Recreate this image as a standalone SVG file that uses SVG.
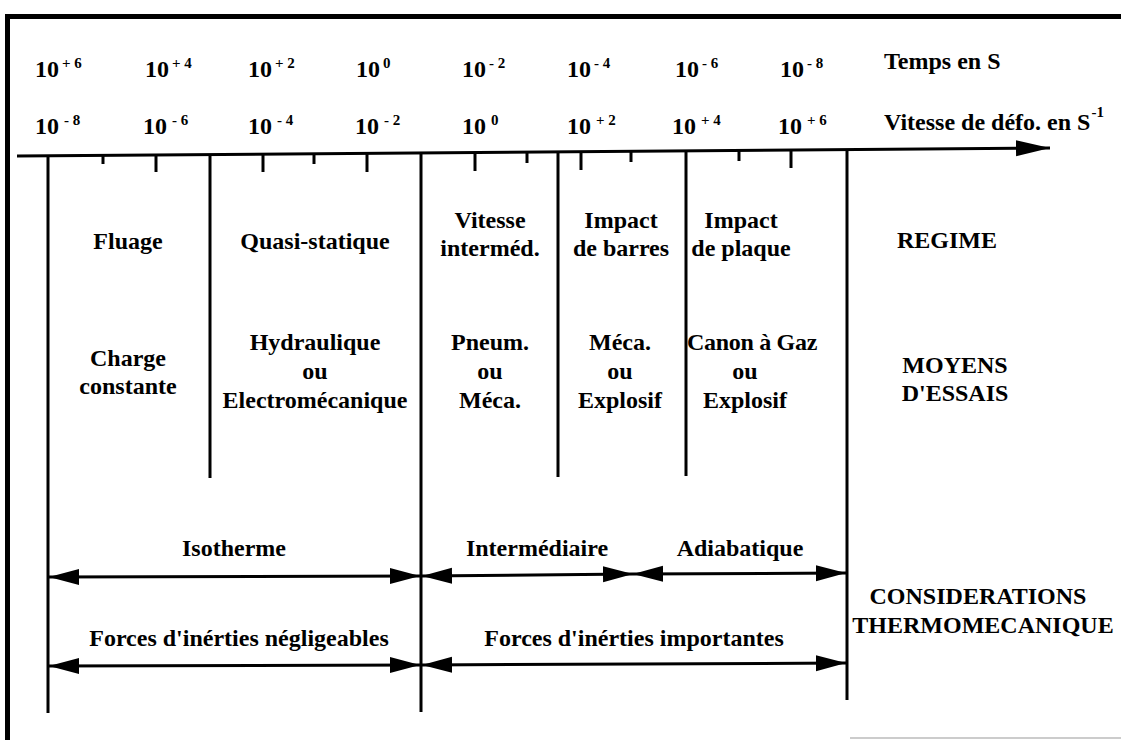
<svg xmlns="http://www.w3.org/2000/svg" width="1121" height="740" viewBox="0 0 1121 740">
<style>
text{font-family:"Liberation Serif","Times New Roman",serif;font-weight:bold;font-size:24px;fill:#000}
.c{text-anchor:middle}
.sup{font-size:15px}
.frame{stroke:#000;stroke-width:5;fill:none}
.ax{stroke:#000;stroke-width:3;fill:none}
.tick{stroke:#000;stroke-width:3}
.div{stroke:#000;stroke-width:3}
.arr{stroke:#000;stroke-width:3;fill:none;marker-start:url(#ah);marker-end:url(#ah)}
</style>
<defs>
<marker id="ah" markerUnits="userSpaceOnUse" markerWidth="32" markerHeight="18" refX="30" refY="8" orient="auto-start-reverse" viewBox="0 0 32 18">
<path d="M0,0 L30,8 L0,16 Z" fill="#000"/>
</marker>
<marker id="axh" markerUnits="userSpaceOnUse" markerWidth="36" markerHeight="18" refX="34" refY="8" orient="auto" viewBox="0 0 36 18">
<path d="M0,0 L34,8 L0,16 Z" fill="#000"/>
</marker>
</defs>
<rect width="1121" height="740" fill="#fff"/>
<g id="frame">
<path class="frame" d="M7.5,740 V16.5 H1121"/>
<line x1="850" y1="738" x2="1121" y2="738" stroke="#999" stroke-width="1"/>
</g>
<g id="axis">
<line class="ax" x1="17" y1="156" x2="1050" y2="148" marker-end="url(#axh)"/>
<g class="tick">
<line x1="103" y1="155" x2="103" y2="164"/>
<line x1="156" y1="155" x2="156" y2="172"/>
<line x1="263" y1="154" x2="263" y2="172"/>
<line x1="314" y1="154" x2="314" y2="164"/>
<line x1="367" y1="153" x2="367" y2="172"/>
<line x1="475" y1="153" x2="475" y2="171"/>
<line x1="527" y1="152" x2="527" y2="163"/>
<line x1="581" y1="152" x2="581" y2="170"/>
<line x1="631" y1="152" x2="631" y2="162"/>
<line x1="739" y1="151" x2="739" y2="161"/>
<line x1="791" y1="151" x2="791" y2="168"/>
</g>
</g>
<g id="dividers" class="div">
<line x1="48" y1="156" x2="48" y2="713"/>
<line x1="210" y1="155" x2="210" y2="478"/>
<line x1="421" y1="153" x2="421" y2="712"/>
<line x1="558" y1="152" x2="558" y2="477"/>
<line x1="686" y1="151" x2="686" y2="476"/>
<line x1="847" y1="150" x2="847" y2="700"/>
</g>
<g id="scale-time">
<text x="35" y="77">10<tspan class="sup" dx="3" dy="-9">+ 6</tspan></text>
<text x="145" y="77">10<tspan class="sup" dx="3" dy="-9">+ 4</tspan></text>
<text x="248" y="77">10<tspan class="sup" dx="3" dy="-9">+ 2</tspan></text>
<text x="356" y="77">10<tspan class="sup" dx="3" dy="-9">0</tspan></text>
<text x="462" y="77">10<tspan class="sup" dx="3" dy="-9">- 2</tspan></text>
<text x="567" y="77">10<tspan class="sup" dx="3" dy="-9">- 4</tspan></text>
<text x="675" y="77">10<tspan class="sup" dx="3" dy="-9">- 6</tspan></text>
<text x="780" y="77">10<tspan class="sup" dx="3" dy="-9">- 8</tspan></text>
<text x="884" y="69">Temps en S</text>
</g>
<g id="scale-rate">
<text x="35" y="134">10<tspan class="sup" dx="5" dy="-9">- 8</tspan></text>
<text x="143" y="134">10<tspan class="sup" dx="5" dy="-9">- 6</tspan></text>
<text x="248" y="134">10<tspan class="sup" dx="5" dy="-9">- 4</tspan></text>
<text x="355" y="134">10<tspan class="sup" dx="5" dy="-9">- 2</tspan></text>
<text x="462" y="134">10<tspan class="sup" dx="5" dy="-9">0</tspan></text>
<text x="567" y="134">10<tspan class="sup" dx="5" dy="-9">+ 2</tspan></text>
<text x="672" y="134">10<tspan class="sup" dx="5" dy="-9">+ 4</tspan></text>
<text x="778" y="134">10<tspan class="sup" dx="5" dy="-9">+ 6</tspan></text>
<text x="884" y="130">Vitesse de défo. en S<tspan class="sup" dx="1" dy="-13">-1</tspan></text>
</g>
<g id="regime-fluage"><text class="c" x="128" y="249">Fluage</text></g>
<g id="regime-quasistatique"><text class="c" x="315" y="249">Quasi-statique</text></g>
<g id="regime-intermed"><text class="c" x="490" y="228">Vitesse</text><text class="c" x="490" y="256">interméd.</text></g>
<g id="regime-barres"><text class="c" x="621" y="228">Impact</text><text class="c" x="621" y="256">de barres</text></g>
<g id="regime-plaque"><text class="c" x="741" y="228">Impact</text><text class="c" x="741" y="256">de plaque</text></g>
<g id="label-regime"><text class="c" x="947" y="248">REGIME</text></g>
<g id="moyen-charge"><text class="c" x="128" y="366">Charge</text><text class="c" x="128" y="394">constante</text></g>
<g id="moyen-hydraulique"><text class="c" x="315" y="350">Hydraulique</text><text class="c" x="315" y="379">ou</text><text class="c" x="315" y="408">Electromécanique</text></g>
<g id="moyen-pneum"><text class="c" x="490" y="350">Pneum.</text><text class="c" x="490" y="379">ou</text><text class="c" x="490" y="408">Méca.</text></g>
<g id="moyen-meca"><text class="c" x="620" y="350">Méca.</text><text class="c" x="620" y="379">ou</text><text class="c" x="620" y="408">Explosif</text></g>
<g id="moyen-canon"><text class="c" x="752" y="350" font-size="22" letter-spacing="-0.3">Canon à Gaz</text><text class="c" x="745" y="379">ou</text><text class="c" x="745" y="408">Explosif</text></g>
<g id="label-moyens"><text class="c" x="955" y="373">MOYENS</text><text class="c" x="955" y="401">D'ESSAIS</text></g>
<g id="thermo-isotherme"><text class="c" x="234" y="556">Isotherme</text></g>
<g id="thermo-intermediaire"><text class="c" x="537" y="556">Intermédiaire</text></g>
<g id="thermo-adiabatique"><text class="c" x="740" y="556">Adiabatique</text></g>
<g id="inertie-negligeables"><text class="c" x="239" y="646">Forces d'inérties négligeables</text></g>
<g id="inertie-importantes"><text class="c" x="634" y="646">Forces d'inérties importantes</text></g>
<g id="label-considerations"><text class="c" x="978" y="604" font-size="25">CONSIDERATIONS</text><text class="c" x="983" y="633">THERMOMECANIQUE</text></g>
<g id="connectors">
<line class="arr" x1="49" y1="577" x2="420" y2="576"/>
<line class="arr" x1="422" y1="576" x2="633" y2="574"/>
<line class="arr" x1="633" y1="574" x2="846" y2="573"/>
<line class="arr" x1="49" y1="666" x2="420" y2="665"/>
<line class="arr" x1="422" y1="665" x2="846" y2="663"/>
</g>
</svg>
